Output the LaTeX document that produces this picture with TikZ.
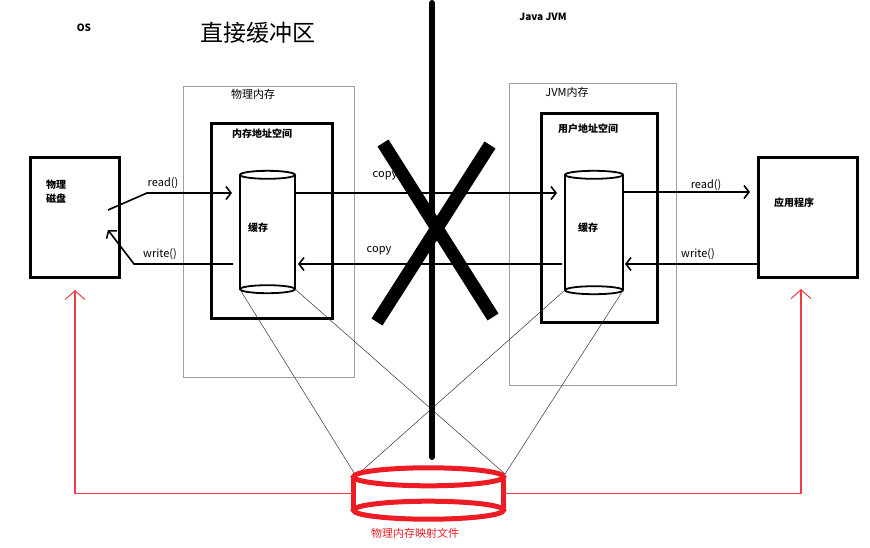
\documentclass[tikz,border=0pt]{standalone}
\usepackage{fontspec}
\setmainfont{Noto Sans CJK SC}
\usetikzlibrary{arrows.meta}
\definecolor{mapred}{RGB}{237,28,36}
\definecolor{mapline}{RGB}{240,60,70}
\tikzset{
	thickbox/.style={draw,line width=3pt,inner sep=0pt},
	membox/.style={draw=gray!75,line width=0.8pt,inner sep=0pt},
	lbl/.style={font=\fontsize{11}{12}\selectfont,inner sep=0pt},
	blbl/.style={font=\bfseries\fontsize{10}{14}\selectfont,inner sep=0pt},
	arr/.style={line width=1.6pt,-{Straight Barb[length=5pt,width=13pt,line width=1.6pt]}},
	maparr/.style={mapline,line width=1.1pt,-{Straight Barb[length=9pt,width=20pt,line width=1pt]}},
	cyl/.style={line width=1.8pt},
	tie/.style={line width=0.5pt,black!80}
}
\begin{document}
\begin{tikzpicture}[x=1pt,y=-1pt]
		\useasboundingbox (0,0) rectangle (870,547);
		
		% titles
		\node[blbl] (os) at (84,28) {OS};
		\node[font=\fontsize{23}{26}\selectfont,inner sep=0pt] (title) at (258,33) {直接缓冲区};
		\node[blbl] (jvm) at (543,17) {Java JVM};
		
		% left side: disk and physical memory
		\node[thickbox,minimum width=89,minimum height=120] (disk) at (74.5,217) {};
		\node[blbl,align=left,anchor=west] (disklbl) at (46,192) {物理\\磁盘};
		\node[membox,minimum width=171,minimum height=291] (phys) at (268.5,231.5) {};
		\node[lbl] (physlbl) at (253,94) {物理内存};
		\node[thickbox,minimum width=121,minimum height=195] (kaddr) at (271.5,220.5) {};
		\node[blbl] (kaddrlbl) at (262,134) {内存地址空间};
		\node[minimum width=55,minimum height=114,inner sep=0pt] (cacheL) at (267.5,232) {};
		\node[blbl] (cacheLlbl) at (258,228) {缓存};
		
		% right side: JVM memory and application
		\node[membox,minimum width=167,minimum height=302] (jmem) at (592.5,234) {};
		\node[lbl] (jmemlbl) at (567,92) {JVM内存};
		\node[thickbox,minimum width=116,minimum height=209] (uaddr) at (599,217.5) {};
		\node[blbl] (uaddrlbl) at (588,129) {用户地址空间};
		\node[minimum width=58,minimum height=115,inner sep=0pt] (cacheR) at (594,232.5) {};
		\node[blbl] (cacheRlbl) at (588,228) {缓存};
		\node[thickbox,minimum width=99,minimum height=120] (app) at (807.5,217) {};
		\node[blbl] (applbl) at (794,203) {应用程序};
		
		% cylinders
		\draw[cyl] (cacheL.north west) -- (cacheL.south west) (cacheL.north east) -- (cacheL.south east);
		\draw[cyl] (cacheL.north) ellipse (27.5pt and 4pt) (cacheL.south) ellipse (27.5pt and 4pt);
		\draw[cyl] (cacheR.north west) -- (cacheR.south west) (cacheR.north east) -- (cacheR.south east);
		\draw[cyl] (cacheR.north) ellipse (29pt and 4pt) (cacheR.south) ellipse (29pt and 4pt);
		
		% mapped file
		\node[minimum width=150,minimum height=33,inner sep=0pt] (mapfile) at (428.5,493.5) {};
		\node[font=\fontsize{11}{12}\selectfont,text=mapred,inner sep=0pt] (maplbl) at (415,533) {物理内存映射文件};
		\coordinate (mapTL) at (356,476);
		\coordinate (mapTR) at (505,474);
		\draw[tie] (cacheL.south west) -- (mapTL);
		\draw[tie] (cacheL.south east) -- (mapTR);
		\draw[tie] (cacheR.south west) -- (mapTL);
		\draw[tie] (cacheR.south east) -- (mapTR);
		
		% wall between OS and JVM
		\draw[line width=6pt,line cap=round] (432,3) -- (432,457);
		\draw[line width=13pt] (383,143) -- (493,317);
		\draw[line width=13pt] (490,145) -- (377,322);
		
		% read / write / copy
		\coordinate (diskOut) at (108,210);
		\coordinate (diskIn) at (108,230);
		\draw[arr] (diskOut) -- (147,193) -- (232,193);
		\node[lbl] (readL) at (163,183) {read()};
		\draw[arr] (233,264) -- (134,264) -- (diskIn);
		\node[lbl] (writeL) at (160,254) {write()};
		\draw[arr] (cacheL.east |- 0,193) -- (557,193);
		\node[lbl] (copyT) at (385,176) {copy};
		\draw[arr] (562,264) -- (298,264);
		\node[lbl] (copyB) at (379,251) {copy};
		\draw[arr] (cacheR.east |- 0,192) -- (750,192);
		\node[lbl] (readR) at (706,185) {read()};
		\draw[arr] (app.west |- 0,264) -- (625,264);
		\node[lbl] (writeR) at (698,254) {write()};
		
		% mapped file cylinder
		\draw[mapred,line width=5pt] (mapfile.north) ellipse (75pt and 9pt) (mapfile.south) ellipse (75pt and 9pt);
		\draw[mapred,line width=5pt] (mapfile.north west) -- (mapfile.south west) (mapfile.north east) -- (mapfile.south east);
		\draw[maparr] (mapfile.west) -- (75,493.5) -- (75,290);
		\draw[maparr] (mapfile.east) -- (801,493.5) -- (801,289);
	\end{tikzpicture}
\end{document}
